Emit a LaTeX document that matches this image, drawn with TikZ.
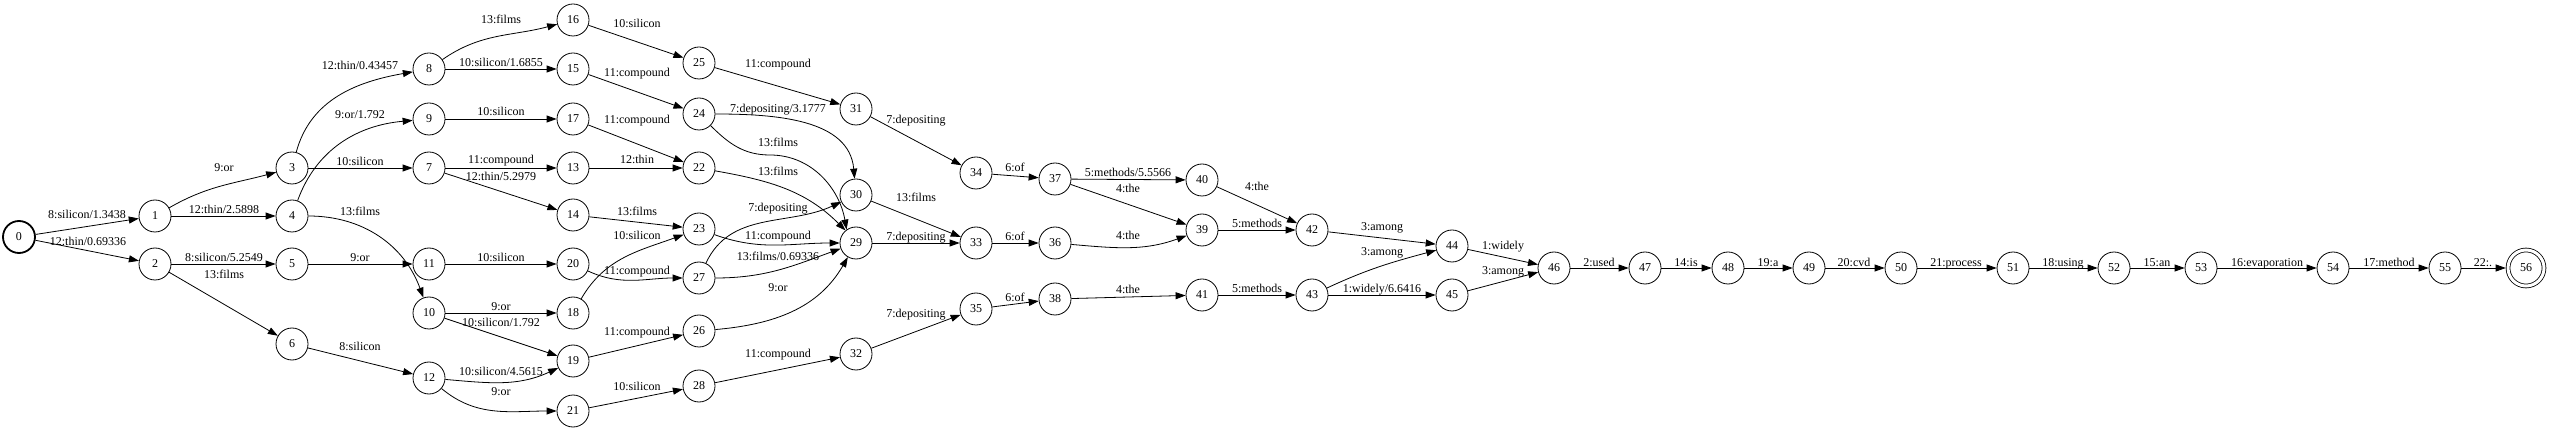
\documentclass[tikz,border=0pt]{standalone}
\usepackage{fontspec}
\setmainfont{Liberation Serif}
\usetikzlibrary{arrows.meta}

\begin{document}
\begin{tikzpicture}[x=1pt,y=1pt,
    every node/.style={font=\fontsize{12}{14}\selectfont},
    state/.style={draw,circle,minimum size=32pt,inner sep=0pt,line width=0.8pt},
    lab/.style={inner sep=0pt,text height=9pt,text depth=1pt},
    >={Triangle[length=10pt,width=7pt]}]
      \useasboundingbox (0,0) rectangle (2550,431);
      \draw
        (19,194) node[state,line width=1.8pt] (0){0}
        (155,215) node[state] (1){1}
        (155,167) node[state] (2){2}
        (292,263) node[state] (3){3}
        (292,215) node[state] (4){4}
        (292,167) node[state] (5){5}
        (292,87) node[state] (6){6}
        (429,263) node[state] (7){7}
        (429,362) node[state] (8){8}
        (429,312) node[state] (9){9}
        (429,118) node[state] (10){10}
        (429,167) node[state] (11){11}
        (429,53) node[state] (12){12}
        (573,263) node[state] (13){13}
        (573,216) node[state] (14){14}
        (573,362) node[state] (15){15}
        (573,411) node[state] (16){16}
        (573,312) node[state] (17){17}
        (573,118) node[state] (18){18}
        (573,70) node[state] (19){19}
        (573,167) node[state] (20){20}
        (573,20) node[state] (21){21}
        (699,263) node[state] (22){22}
        (699,202) node[state] (23){23}
        (699,317) node[state] (24){24}
        (699,368) node[state] (25){25}
        (699,100) node[state] (26){26}
        (699,153) node[state] (27){27}
        (699,45) node[state] (28){28}
        (856,188) node[state] (29){29}
        (856,236) node[state] (30){30}
        (856,322) node[state] (31){31}
        (856,77) node[state] (32){32}
        (976,188) node[state] (33){33}
        (976,258) node[state] (34){34}
        (976,122) node[state] (35){35}
        (1055,188) node[state] (36){36}
        (1055,252) node[state] (37){37}
        (1055,132) node[state] (38){38}
        (1202,201) node[state] (39){39}
        (1202,251) node[state] (40){40}
        (1202,136) node[state] (41){41}
        (1312,201) node[state] (42){42}
        (1312,136) node[state] (43){43}
        (1452,185) node[state] (44){44}
        (1452,136) node[state] (45){45}
        (1554,163) node[state] (46){46}
        (1645,163) node[state] (47){47}
        (1728,163) node[state] (48){48}
        (1809,163) node[state] (49){49}
        (1901,163) node[state] (50){50}
        (2013,163) node[state] (51){51}
        (2114,163) node[state] (52){52}
        (2201,163) node[state] (53){53}
        (2333,163) node[state] (54){54}
        (2445,163) node[state] (55){55}
        (2526,163) node[state,minimum size=36pt,double,double distance=3pt,outer sep=2.3pt] (56){56};
      \begin{scope}[->,line width=0.8pt]
        \draw (0) to (1) node[lab] (l0-1) at (87,216) {8:silicon/1.3438};
        \draw (0) to (2) node[lab] (l0-2) at (88,189) {12:thin/0.69336};
        \draw (1) to[out=30,in=195] (3) node[lab] (l1-3) at (224,263) {9:or};
        \draw (1) to (4) node[lab] (l1-4) at (224,221) {12:thin/2.5898};
        \draw (2) to (5) node[lab] (l2-5) at (224,173) {8:silicon/5.2549};
        \draw (2) to (6) node[lab] (l2-6) at (224,156) {13:films};
        \draw (3) to[out=75,in=190] (8) node[lab] (l3-8) at (360,365) {12:thin/0.43457};
        \draw (3) to (7) node[lab] (l3-7) at (360,269) {10:silicon};
        \draw (4) to[out=70,in=185] (9) node[lab] (l4-9) at (360,316) {9:or/1.792};
        \draw (4) to[out=0,in=110] (10) node[lab] (l4-10) at (360,219) {13:films};
        \draw (5) to (11) node[lab] (l5-11) at (360,173) {9:or};
        \draw (6) to (12) node[lab] (l6-12) at (360,85) {8:silicon};
        \draw (8) to[out=35,in=195] (16) node[lab] (l8-16) at (501,411) {13:films};
        \draw (8) to (15) node[lab] (l8-15) at (501,368) {10:silicon/1.6855};
        \draw (9) to (17) node[lab] (l9-17) at (501,319) {10:silicon};
        \draw (7) to (13) node[lab] (l7-13) at (501,271) {11:compound};
        \draw (7) to (14) node[lab] (l7-14) at (501,254) {12:thin/5.2979};
        \draw (11) to (20) node[lab] (l11-20) at (501,173) {10:silicon};
        \draw (10) to (18) node[lab] (l10-18) at (501,124) {9:or};
        \draw (10) to (19) node[lab] (l10-19) at (501,108) {10:silicon/1.792};
        \draw (12) to[out=-5,in=205] (19) node[lab] (l12-19) at (501,60) {10:silicon/4.5615};
        \draw (12) to[out=-40,in=180] (21) node[lab] (l12-21) at (501,39) {9:or};
        \draw (16) to (25) node[lab] (l16-25) at (637,407) {10:silicon};
        \draw (15) to (24) node[lab] (l15-24) at (637,358) {11:compound};
        \draw (17) to (22) node[lab] (l17-22) at (637,311) {11:compound};
        \draw (13) to (22) node[lab] (l13-22) at (637,271) {12:thin};
        \draw (14) to (23) node[lab] (l14-23) at (637,219) {13:films};
        \draw (18) to[out=60,in=200] (23) node[lab] (l18-23) at (637,195) {10:silicon};
        \draw (20) to[out=-25,in=180] (27) node[lab] (l20-27) at (637,160) {11:compound};
        \draw (19) to (26) node[lab] (l19-26) at (637,99) {11:compound};
        \draw (21) to (28) node[lab] (l21-28) at (637,45) {10:silicon};
        \draw (25) to (31) node[lab] (l25-31) at (778,367) {11:compound};
        \draw (24) to[out=0,in=95] (30) node[lab] (l24-30) at (778,322) {7:depositing/3.1777};
        \draw (24) to[out=-45,in=180] (770,276) to[out=0,in=100] (29.125) node[lab] (l24-29) at (778,288) {13:films};
        \draw (22) to[out=-10,in=135] (29.130) node[lab] (l22-29) at (778,259) {13:films};
        \draw (27) to[out=65,in=205] (30) node[lab] (l27-30) at (778,223) {7:depositing};
        \draw (23) to[out=-20,in=180] (29) node[lab] (l23-29) at (778,195) {11:compound};
        \draw (27) to[out=0,in=200] (29) node[lab] (l27-29) at (778,174) {13:films/0.69336};
        \draw (26) to[out=5,in=240] (29) node[lab] (l26-29) at (778,143) {9:or};
        \draw (28) to (32) node[lab] (l28-32) at (778,78) {11:compound};
        \draw (31) to (34) node[lab] (l31-34) at (916,311) {7:depositing};
        \draw (30) to (33) node[lab] (l30-33) at (916,233) {13:films};
        \draw (29) to (33) node[lab] (l29-33) at (916,194) {7:depositing};
        \draw (32) to (35) node[lab] (l32-35) at (916,117) {7:depositing};
        \draw (34) to (37) node[lab] (l34-37) at (1015,263) {6:of};
        \draw (33) to (36) node[lab] (l33-36) at (1015,194) {6:of};
        \draw (35) to (38) node[lab] (l35-38) at (1015,133) {6:of};
        \draw (37) to (40) node[lab] (l37-40) at (1128,258) {5:methods/5.5566};
        \draw (37) to (39) node[lab] (l37-39) at (1128,242) {4:the};
        \draw (36) to[out=-5,in=200] (39) node[lab] (l36-39) at (1128,195) {4:the};
        \draw (38) to (41) node[lab] (l38-41) at (1128,141) {4:the};
        \draw (40) to (42) node[lab] (l40-42) at (1257,244) {4:the};
        \draw (39) to (42) node[lab] (l39-42) at (1257,207) {5:methods};
        \draw (41) to (43) node[lab] (l41-43) at (1257,142) {5:methods};
        \draw (42) to (44) node[lab] (l42-44) at (1382,204) {3:among};
        \draw (43) to[out=25,in=195] (44) node[lab] (l43-44) at (1382,179) {3:among};
        \draw (43) to (45) node[lab] (l43-45) at (1382,142) {1:widely/6.6416};
        \draw (44) to (46) node[lab] (l44-46) at (1503,185) {1:widely};
        \draw (45) to (46) node[lab] (l45-46) at (1503,160) {3:among};
        \draw (46) to (47) node[lab] (l46-47) at (1599,168) {2:used};
        \draw (47) to (48) node[lab] (l47-48) at (1686,168) {14:is};
        \draw (48) to (49) node[lab] (l48-49) at (1768,168) {19:a};
        \draw (49) to (50) node[lab] (l49-50) at (1854,168) {20:cvd};
        \draw (50) to (51) node[lab] (l50-51) at (1956,168) {21:process};
        \draw (51) to (52) node[lab] (l51-52) at (2063,168) {18:using};
        \draw (52) to (53) node[lab] (l52-53) at (2157,168) {15:an};
        \draw (53) to (54) node[lab] (l53-54) at (2267,168) {16:evaporation};
        \draw (54) to (55) node[lab] (l54-55) at (2389,168) {17:method};
        \draw (55) to (56) node[lab] (l55-56) at (2483,168) {22:.};
      \end{scope}
    \end{tikzpicture}
\end{document}
